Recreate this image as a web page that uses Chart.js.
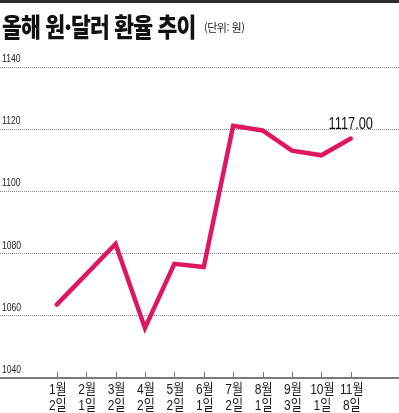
<!DOCTYPE html>
<html lang="ko">
<head>
<meta charset="utf-8">
<title>올해 원·달러 환율 추이</title>
<script src="https://cdn.jsdelivr.net/npm/chart.js@4"></script>
<style>
  html, body { margin: 0; padding: 0; background: #fff; }
  .wrap { position: relative; width: 399px; height: 413px; overflow: hidden; }
  .topline { position: absolute; left: 0; top: 0; width: 399px; height: 3px; background: #2b2b2b; }
  .title {
    position: absolute; left: 2px; top: 7px; white-space: nowrap;
    font-family: 'Noto Sans CJK KR', sans-serif; color: #111;
  }
  .title b {
    display: inline-block; font-size: 26px; font-weight: 900;
    letter-spacing: -1px; transform: scaleX(0.83); transform-origin: left;
  }
  .title span {
    position: absolute; left: 202px; top: 12px;
    font-size: 11px; letter-spacing: -0.5px; color: #222;
  }
  canvas { position: absolute; left: 0; top: 0; }
</style>
</head>
<body>
<div class="wrap">
  <canvas id="fxChart" width="399" height="413"></canvas>
  <div class="topline"></div>
  <div class="title"><b>올해 원·달러 환율 추이</b><span>(단위: 원)</span></div>
</div>
<script>
// ── Data ─────────────────────────────────────────────
const MONTHS = ['1월', '2월', '3월', '4월', '5월', '6월', '7월', '8월', '9월', '10월', '11월'];
const DAYS   = ['2일', '1일', '2일', '2일', '2일', '1일', '2일', '1일', '3일', '1일', '8일'];
const RATES  = [1063.6, 1073.3, 1083.1, 1056.1, 1076.7, 1075.7, 1121.1, 1119.6, 1113.1, 1111.6, 1117.0];
const Y_TICKS = [1040, 1060, 1080, 1100, 1120, 1140];
const LAST_LABEL = '1117.00';

const FONT = "'Liberation Sans', 'Noto Sans CJK KR', sans-serif";
const RED = '#de1860';

// draw text squeezed horizontally (the original uses a condensed face)
function narrowText(ctx, text, x, y, sx) {
  ctx.save();
  ctx.translate(x, y);
  ctx.scale(sx, 1);
  ctx.fillText(text, 0, 0);
  ctx.restore();
}

// tick marks on top of the axis line, axis labels, and the last-value label
const extras = {
  id: 'extras',
  afterDatasetsDraw(chart) {
    const { ctx, scales: { x, y } } = chart;
    ctx.save();

    // x ticks + two-line labels
    ctx.strokeStyle = '#777';
    ctx.lineWidth = 1;
    ctx.fillStyle = '#1a1a1a';
    ctx.font = '15px ' + FONT;
    ctx.textAlign = 'center';
    ctx.textBaseline = 'alphabetic';
    MONTHS.forEach((m, i) => {
      const px = x.getPixelForValue(i);
      const lx = Math.round(px) + 0.5;
      ctx.beginPath();
      ctx.moveTo(lx, y.bottom - 6);
      ctx.lineTo(lx, y.bottom);
      ctx.stroke();
      narrowText(ctx, m, px + 1, y.bottom + 16, 0.8);
      narrowText(ctx, DAYS[i], px + 1, y.bottom + 32, 0.8);
    });

    // y labels sitting above their grid lines
    ctx.fillStyle = '#222';
    ctx.font = '11px ' + FONT;
    ctx.textAlign = 'left';
    y.ticks.forEach(t => {
      narrowText(ctx, String(t.value), 2, y.getPixelForValue(t.value) - 5, 0.78);
    });

    // last value
    const last = RATES.length - 1;
    ctx.fillStyle = '#111';
    ctx.font = '16px ' + FONT;
    ctx.textAlign = 'center';
    narrowText(ctx, LAST_LABEL, x.getPixelForValue(last), y.getPixelForValue(RATES[last]) - 10, 0.8);
    ctx.restore();
  }
};

new Chart(document.getElementById('fxChart'), {
  type: 'line',
  data: {
    datasets: [{
      data: RATES.map((v, i) => ({ x: i, y: v })),
      borderColor: RED,
      borderWidth: 4.5,
      borderCapStyle: 'round',
      borderJoinStyle: 'miter',
      pointRadius: 0,
      tension: 0,
    }],
  },
  options: {
    responsive: false,
    animation: false,
    layout: { padding: { top: 67, left: 0, right: 0, bottom: 0 } },
    plugins: { legend: { display: false }, tooltip: { enabled: false } },
    scales: {
      x: {
        type: 'linear',
        min: -1.93,
        max: 11.64,
        afterBuildTicks: s => { s.ticks = MONTHS.map((_, i) => ({ value: i })); },
        afterFit: s => { s.height = 35; },
        grid: { display: false, drawTicks: false },
        border: { display: true, color: '#7a7a7a', width: 2 },
        ticks: { display: false },
      },
      y: {
        min: Y_TICKS[0],
        max: Y_TICKS[Y_TICKS.length - 1],
        afterBuildTicks: s => { s.ticks = Y_TICKS.map(v => ({ value: v })); },
        afterFit: s => { s.width = 0; },
        grid: {
          drawTicks: false,
          color: c => c.tick.value === Y_TICKS[0] ? 'rgba(0,0,0,0)' : '#8a8a8a',
          lineWidth: 1,
        },
        border: { display: false, dash: [1, 1] },
        ticks: { display: false },
      },
    },
  },
  plugins: [extras],
});
</script>
</body>
</html>
